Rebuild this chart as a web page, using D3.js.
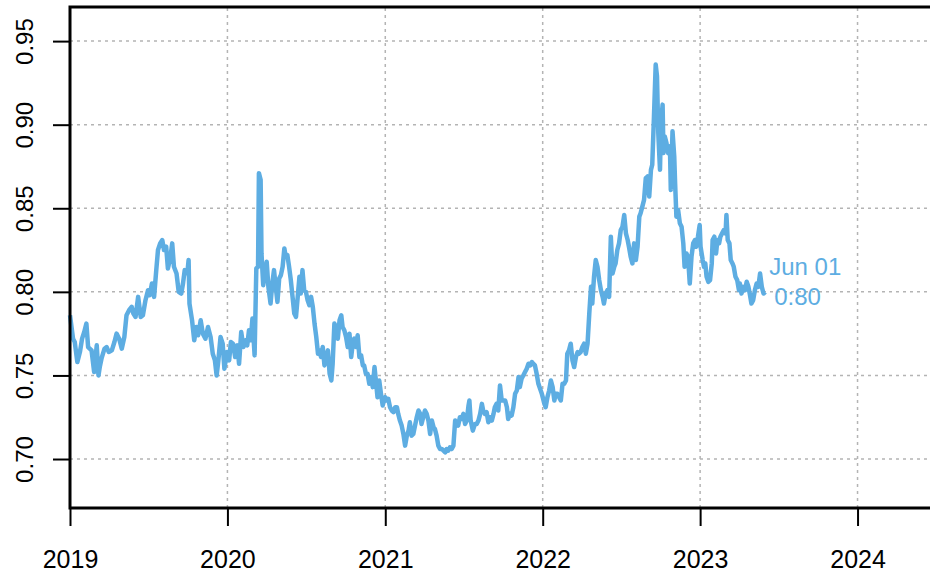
<!DOCTYPE html>
<html>
<head>
<meta charset="utf-8">
<script src="https://cdn.jsdelivr.net/npm/d3@7"></script>
<style>
  body { margin: 0; background: #fff; }
  svg { display: block; font-family: "Liberation Sans", Arial, sans-serif; }
</style>
</head>
<body>
<svg width="930" height="575"></svg>
<script>
// values, [month-day, value]
var y2019 = [
  ["01-01", 0.786], ["01-08", 0.772], ["01-12", 0.770], ["01-18", 0.758], ["01-24", 0.764],
  ["01-29", 0.772], ["02-03", 0.776], ["02-08", 0.781], ["02-12", 0.767], ["02-20", 0.765],
  ["02-26", 0.752], ["03-04", 0.768], ["03-08", 0.750], ["03-11", 0.755], ["03-15", 0.760],
  ["03-22", 0.766], ["03-27", 0.767], ["04-01", 0.764], ["04-08", 0.765], ["04-14", 0.770],
  ["04-19", 0.775], ["04-25", 0.772], ["05-01", 0.766], ["05-07", 0.773], ["05-12", 0.786],
  ["05-18", 0.789], ["05-24", 0.791], ["05-28", 0.787], ["06-02", 0.785], ["06-08", 0.797],
  ["06-14", 0.785], ["06-19", 0.786], ["06-25", 0.795], ["07-01", 0.801], ["07-05", 0.798],
  ["07-10", 0.805], ["07-15", 0.797], ["07-20", 0.813], ["07-24", 0.825], ["07-29", 0.829],
  ["08-03", 0.831], ["08-07", 0.825], ["08-12", 0.827], ["08-16", 0.814], ["08-22", 0.821],
  ["08-26", 0.829], ["08-30", 0.815], ["09-05", 0.811], ["09-10", 0.800], ["09-16", 0.799],
  ["09-20", 0.805], ["09-24", 0.813], ["09-30", 0.811], ["10-03", 0.819], ["10-05", 0.793],
  ["10-11", 0.783], ["10-16", 0.771], ["10-21", 0.779], ["10-25", 0.774], ["10-31", 0.783],
  ["11-05", 0.775], ["11-11", 0.772], ["11-17", 0.779], ["11-23", 0.773], ["11-28", 0.763],
  ["12-03", 0.759], ["12-07", 0.750], ["12-11", 0.759], ["12-16", 0.773], ["12-21", 0.769],
  ["12-25", 0.754], ["12-31", 0.764]
];

var y2020 = [
  ["01-05", 0.759], ["01-09", 0.770], ["01-14", 0.769], ["01-19", 0.761], ["01-24", 0.768],
  ["01-28", 0.757], ["02-02", 0.776], ["02-07", 0.767], ["02-12", 0.771], ["02-16", 0.768],
  ["02-20", 0.777], ["02-24", 0.771], ["02-28", 0.784], ["03-04", 0.762], ["03-08", 0.814],
  ["03-12", 0.815], ["03-14", 0.871], ["03-18", 0.867], ["03-20", 0.823], ["03-24", 0.804],
  ["03-28", 0.811], ["04-01", 0.818], ["04-05", 0.803], ["04-10", 0.793], ["04-14", 0.805],
  ["04-18", 0.813], ["04-22", 0.803], ["04-26", 0.794], ["04-30", 0.808], ["05-04", 0.810],
  ["05-08", 0.815], ["05-12", 0.826], ["05-15", 0.821], ["05-19", 0.822], ["05-23", 0.815],
  ["05-27", 0.807], ["05-31", 0.797], ["06-04", 0.787], ["06-08", 0.785], ["06-12", 0.797],
  ["06-16", 0.809], ["06-19", 0.799], ["06-23", 0.813], ["06-27", 0.801], ["07-01", 0.800],
  ["07-05", 0.795], ["07-09", 0.792], ["07-13", 0.797], ["07-17", 0.791], ["07-21", 0.781],
  ["07-25", 0.773], ["07-29", 0.763], ["08-01", 0.765], ["08-05", 0.761], ["08-09", 0.767],
  ["08-13", 0.756], ["08-17", 0.761], ["08-21", 0.765], ["08-25", 0.751], ["08-29", 0.747],
  ["09-01", 0.757], ["09-05", 0.781], ["09-09", 0.779], ["09-13", 0.772], ["09-17", 0.783],
  ["09-21", 0.786], ["09-24", 0.779], ["09-28", 0.777], ["10-02", 0.773], ["10-06", 0.767],
  ["10-10", 0.775], ["10-14", 0.761], ["10-18", 0.770], ["10-21", 0.772], ["10-25", 0.767],
  ["10-29", 0.774], ["11-02", 0.761], ["11-06", 0.762], ["11-10", 0.756], ["11-13", 0.756],
  ["11-17", 0.751], ["11-21", 0.751], ["11-25", 0.745], ["11-29", 0.749], ["12-03", 0.743],
  ["12-07", 0.755], ["12-11", 0.745], ["12-14", 0.737], ["12-18", 0.747], ["12-22", 0.739],
  ["12-26", 0.732], ["12-30", 0.736]
];

var y2021 = [
  ["01-01", 0.737], ["01-05", 0.735], ["01-08", 0.736], ["01-12", 0.731], ["01-16", 0.729],
  ["01-20", 0.728], ["01-24", 0.731], ["01-28", 0.731], ["01-31", 0.727], ["02-04", 0.723],
  ["02-08", 0.720], ["02-12", 0.715], ["02-16", 0.708], ["02-20", 0.714], ["02-24", 0.717],
  ["02-27", 0.722], ["03-03", 0.714], ["03-07", 0.715], ["03-11", 0.720], ["03-15", 0.725],
  ["03-19", 0.729], ["03-23", 0.727], ["03-26", 0.721], ["03-30", 0.725], ["04-03", 0.729],
  ["04-07", 0.727], ["04-11", 0.723], ["04-15", 0.715], ["04-19", 0.723], ["04-23", 0.719],
  ["04-26", 0.718], ["04-30", 0.714], ["05-04", 0.708], ["05-08", 0.706], ["05-12", 0.706],
  ["05-16", 0.705], ["05-20", 0.704], ["05-23", 0.706], ["05-27", 0.705], ["05-31", 0.707],
  ["06-04", 0.706], ["06-08", 0.708], ["06-12", 0.723], ["06-16", 0.721], ["06-19", 0.720],
  ["06-23", 0.725], ["06-27", 0.724], ["07-01", 0.727], ["07-05", 0.721], ["07-09", 0.723],
  ["07-13", 0.732], ["07-15", 0.735], ["07-18", 0.723], ["07-23", 0.717], ["07-28", 0.721],
  ["08-01", 0.721], ["08-05", 0.723], ["08-09", 0.727], ["08-13", 0.733], ["08-16", 0.729],
  ["08-20", 0.727], ["08-24", 0.728], ["08-28", 0.722], ["09-01", 0.725], ["09-05", 0.723],
  ["09-09", 0.727], ["09-12", 0.731], ["09-16", 0.733], ["09-20", 0.729], ["09-24", 0.744],
  ["09-28", 0.735], ["10-02", 0.735], ["10-06", 0.735], ["10-10", 0.731], ["10-13", 0.724],
  ["10-17", 0.727], ["10-21", 0.726], ["10-25", 0.731], ["10-29", 0.739], ["11-02", 0.741],
  ["11-06", 0.749], ["11-09", 0.743], ["11-13", 0.748], ["11-17", 0.750], ["11-21", 0.752],
  ["11-25", 0.754], ["11-29", 0.757], ["12-03", 0.756], ["12-07", 0.758], ["12-10", 0.757],
  ["12-14", 0.756], ["12-18", 0.751], ["12-22", 0.745], ["12-26", 0.742], ["12-30", 0.739]
];

var y2022 = [
  ["01-01", 0.737], ["01-05", 0.733], ["01-08", 0.731], ["01-12", 0.737], ["01-16", 0.741],
  ["01-20", 0.747], ["01-24", 0.743], ["01-28", 0.735], ["01-31", 0.739], ["02-04", 0.739],
  ["02-08", 0.737], ["02-12", 0.735], ["02-16", 0.745], ["02-20", 0.745], ["02-24", 0.747],
  ["02-27", 0.763], ["03-03", 0.765], ["03-07", 0.769], ["03-11", 0.759], ["03-15", 0.755],
  ["03-19", 0.761], ["03-23", 0.764], ["03-26", 0.763], ["03-30", 0.764], ["04-03", 0.767],
  ["04-07", 0.769], ["04-11", 0.763], ["04-15", 0.769], ["04-19", 0.787], ["04-23", 0.803],
  ["04-26", 0.793], ["04-30", 0.809], ["05-04", 0.819], ["05-08", 0.815], ["05-12", 0.807],
  ["05-16", 0.801], ["05-20", 0.797], ["05-23", 0.793], ["05-27", 0.799], ["05-31", 0.801],
  ["06-04", 0.797], ["06-08", 0.833], ["06-12", 0.811], ["06-16", 0.815], ["06-19", 0.817],
  ["06-23", 0.825], ["06-27", 0.829], ["07-01", 0.837], ["07-05", 0.839], ["07-09", 0.846],
  ["07-13", 0.835], ["07-17", 0.831], ["07-20", 0.827], ["07-24", 0.821], ["07-28", 0.817],
  ["08-01", 0.829], ["08-05", 0.819], ["08-09", 0.827], ["08-13", 0.845], ["08-16", 0.847],
  ["08-20", 0.851], ["08-24", 0.855], ["08-28", 0.868], ["09-01", 0.869], ["09-05", 0.857],
  ["09-09", 0.873], ["09-12", 0.876], ["09-16", 0.905], ["09-20", 0.936], ["09-23", 0.929],
  ["09-26", 0.895], ["09-30", 0.873], ["10-02", 0.899], ["10-06", 0.912], ["10-08", 0.883],
  ["10-11", 0.893], ["10-15", 0.889], ["10-19", 0.883], ["10-23", 0.887], ["10-25", 0.861],
  ["10-29", 0.896], ["11-02", 0.881], ["11-04", 0.865], ["11-07", 0.845], ["11-11", 0.849],
  ["11-15", 0.841], ["11-19", 0.839], ["11-23", 0.829], ["11-26", 0.815], ["11-30", 0.823],
  ["12-04", 0.821], ["12-08", 0.805], ["12-12", 0.821], ["12-16", 0.829], ["12-20", 0.831],
  ["12-23", 0.827], ["12-27", 0.833], ["12-31", 0.840]
];

var y2023 = [
  ["01-02", 0.827], ["01-07", 0.819], ["01-10", 0.815], ["01-13", 0.817], ["01-16", 0.809],
  ["01-20", 0.806], ["01-24", 0.807], ["01-28", 0.817], ["01-30", 0.831], ["02-03", 0.833],
  ["02-07", 0.823], ["02-10", 0.831], ["02-14", 0.829], ["02-17", 0.833], ["02-21", 0.835],
  ["02-25", 0.837], ["03-01", 0.835], ["03-03", 0.846], ["03-06", 0.831], ["03-10", 0.829],
  ["03-13", 0.819], ["03-17", 0.817], ["03-20", 0.815], ["03-24", 0.809], ["03-28", 0.807],
  ["04-01", 0.801], ["04-03", 0.805], ["04-07", 0.799], ["04-11", 0.803], ["04-15", 0.801],
  ["04-19", 0.806], ["04-23", 0.803], ["04-26", 0.799], ["04-30", 0.793], ["05-04", 0.795],
  ["05-08", 0.801], ["05-12", 0.805], ["05-16", 0.803], ["05-20", 0.811], ["05-24", 0.803],
  ["05-28", 0.799], ["06-01", 0.800]
];

var years = [2019, 2020, 2021, 2022, 2023];
var series = [y2019, y2020, y2021, y2022, y2023];

var yTicks = [0.70, 0.75, 0.80, 0.85, 0.90, 0.95];
var xTickYears = [2019, 2020, 2021, 2022, 2023, 2024];

var lineColor = "#5DADE2";

var parse = d3.timeParse("%Y-%m-%d");
var data = [];
series.forEach(function(rows, i) {
  rows.forEach(function(r) {
    data.push({ date: parse(years[i] + "-" + r[0]), value: r[1] });
  });
});

var svg = d3.select("svg");

var x = d3.scaleTime()
    .domain([new Date(2019, 0, 1), new Date(2024, 5, 17)])
    .range([70, 930]);

var y = d3.scaleLinear()
    .domain([0.6707, 0.9704])
    .range([508, 7]);

var xTicks = xTickYears.map(function(yr) { return new Date(yr, 0, 1); });

// grid
var grid = svg.append("g")
    .attr("stroke", "#b4b4b4")
    .attr("stroke-width", 1.5)
    .attr("stroke-dasharray", "3,4");

grid.selectAll(".hgrid")
    .data(yTicks)
  .enter().append("line")
    .attr("x1", x.range()[0])
    .attr("x2", x.range()[1])
    .attr("y1", function(d) { return y(d); })
    .attr("y2", function(d) { return y(d); });

grid.selectAll(".vgrid")
    .data(xTicks.slice(1))
  .enter().append("line")
    .attr("x1", function(d) { return x(d); })
    .attr("x2", function(d) { return x(d); })
    .attr("y1", y.range()[0])
    .attr("y2", y.range()[1]);

// series line
var line = d3.line()
    .x(function(d) { return x(d.date); })
    .y(function(d) { return y(d.value); });

svg.append("path")
    .datum(data)
    .attr("fill", "none")
    .attr("stroke", lineColor)
    .attr("stroke-width", 4.5)
    .attr("stroke-linejoin", "round")
    .attr("d", line);

// axes
var yAxis = svg.append("g")
    .attr("transform", "translate(" + x.range()[0] + ",0)")
    .call(d3.axisLeft(y).tickValues(yTicks).tickSize(17).tickFormat(d3.format(".2f")));

yAxis.select(".domain").remove();
yAxis.selectAll(".tick line").attr("stroke", "#000").attr("stroke-width", 2);
yAxis.selectAll(".tick text")
    .attr("transform", "rotate(-90)")
    .attr("x", 0)
    .attr("y", -37)
    .attr("dy", 0)
    .attr("text-anchor", "middle")
    .attr("fill", "#000")
    .style("font-size", "24px")
    .style("font-family", "Liberation Sans, Arial, sans-serif");

var xAxis = svg.append("g")
    .attr("transform", "translate(0," + y.range()[0] + ")")
    .call(d3.axisBottom(x).tickValues(xTicks).tickSize(18).tickFormat(d3.timeFormat("%Y")));

xAxis.select(".domain").remove();
xAxis.selectAll(".tick line").attr("stroke", "#000").attr("stroke-width", 2);
xAxis.selectAll(".tick text")
    .attr("y", 60)
    .attr("dy", 0)
    .attr("fill", "#000")
    .style("font-size", "25px")
    .style("font-family", "Liberation Sans, Arial, sans-serif");

// frame: top, left, bottom
svg.append("path")
    .attr("fill", "none")
    .attr("stroke", "#000")
    .attr("stroke-width", 3)
    .attr("d", "M" + x.range()[1] + "," + y.range()[1] +
               "H" + x.range()[0] + "V" + y.range()[0] + "H" + x.range()[1]);

// last value label
var last = data[data.length - 1];
var lbl = svg.append("text")
    .attr("fill", lineColor)
    .style("font-size", "24px");

lbl.append("tspan")
    .attr("x", x(last.date) + 4)
    .attr("y", y(last.value) - 17)
    .text(d3.timeFormat("%b %d")(last.date));

lbl.append("tspan")
    .attr("x", x(last.date) + 9)
    .attr("y", y(last.value) + 13)
    .text(d3.format(".2f")(last.value).replace(".", ":"));
</script>
</body>
</html>
